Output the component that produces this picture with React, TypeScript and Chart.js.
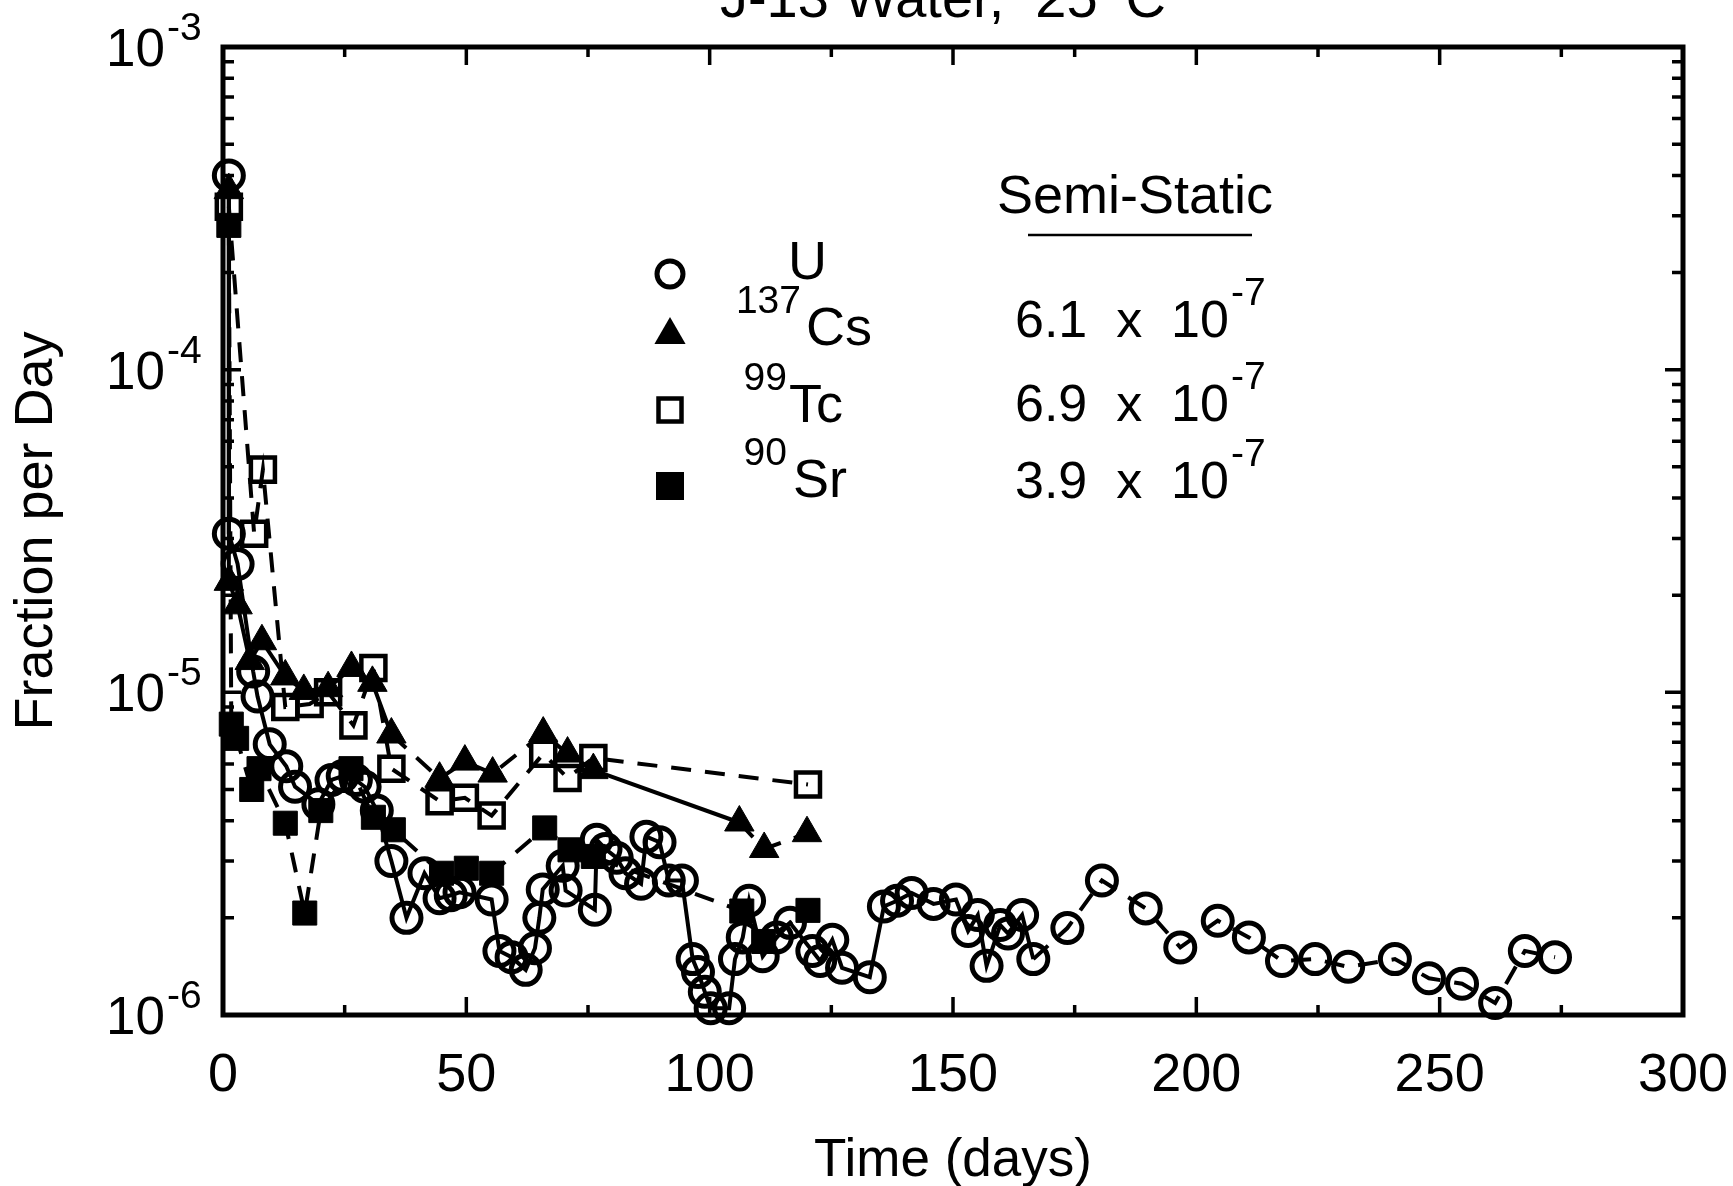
import { useEffect, useRef } from 'react';
import { Chart, registerables } from 'chart.js';

Chart.register(...registerables);

const FONT = "'Liberation Sans', Arial, Helvetica, sans-serif";

// ---- data (days, fraction per day) ----
const uDays = [1.2, 1.2, 3.0, 6.2, 7.1, 9.6, 13.0, 14.8, 19.6, 22.3, 24.6, 27.3, 29.1, 31.6, 34.6, 37.7, 41.4, 44.5, 46.8, 48.6,
  55.2, 56.8, 59.3, 62.2, 64.1, 65.0, 65.7, 69.8, 70.4, 76.4, 76.8, 78.6, 80.9, 82.7, 85.9, 87.0, 89.7, 91.6, 94.3,
  96.5, 97.6, 99.0, 100.2, 104.0, 105.2, 106.8, 108.1, 110.9, 113.8, 116.5, 121.1, 122.7, 125.2, 127.2, 132.9,
  135.8, 138.5, 141.5, 146.0, 150.6, 153.1, 155.1, 156.9, 159.7, 161.3, 164.2, 166.5, 173.5, 180.6, 189.6, 196.7,
  204.4, 210.8, 217.6, 224.4, 231.2, 240.8, 247.8, 254.6, 261.4, 267.5, 273.7];
const uValues = [4.0e-4, 3.1e-5, 2.5e-5, 1.16e-5, 9.7e-6, 6.9e-6, 5.9e-6, 5.1e-6, 4.5e-6, 5.35e-6, 5.5e-6, 5.35e-6, 5.1e-6, 4.3e-6, 3.0e-6, 2.0e-6, 2.75e-6, 2.3e-6, 2.35e-6, 2.4e-6,
  2.28e-6, 1.58e-6, 1.51e-6, 1.38e-6, 1.61e-6, 2.0e-6, 2.45e-6, 2.9e-6, 2.43e-6, 2.12e-6, 3.49e-6, 3.27e-6, 3.07e-6, 2.75e-6, 2.55e-6, 3.57e-6, 3.43e-6, 2.61e-6, 2.61e-6,
  1.49e-6, 1.36e-6, 1.18e-6, 1.05e-6, 1.05e-6, 1.49e-6, 1.74e-6, 2.26e-6, 1.52e-6, 1.74e-6, 1.93e-6, 1.58e-6, 1.47e-6, 1.71e-6, 1.40e-6, 1.31e-6,
  2.17e-6, 2.26e-6, 2.39e-6, 2.21e-6, 2.28e-6, 1.82e-6, 2.04e-6, 1.42e-6, 1.90e-6, 1.79e-6, 2.04e-6, 1.49e-6, 1.86e-6, 2.61e-6, 2.14e-6, 1.62e-6,
  1.96e-6, 1.74e-6, 1.47e-6, 1.49e-6, 1.41e-6, 1.49e-6, 1.30e-6, 1.25e-6, 1.09e-6, 1.58e-6, 1.51e-6];

const csDays = [1.2, 1.2, 3.0, 5.5, 8.0, 12.8, 16.6, 21.6, 26.4, 30.7, 34.6, 44.5, 49.7, 55.4, 65.8, 70.8, 76.1, 106.1, 111.2, 120.0];
const csValues = [3.6e-4, 2.2e-5, 1.86e-5, 1.25e-5, 1.44e-5, 1.12e-5, 1.01e-5, 1.03e-5, 1.19e-5, 1.07e-5, 7.4e-6, 5.4e-6, 6.1e-6, 5.6e-6, 7.45e-6, 6.46e-6, 5.74e-6, 3.95e-6, 3.27e-6, 3.66e-6];

const tcDays = [1.2, 6.4, 8.2, 12.8, 17.8, 21.6, 26.8, 30.9, 34.6, 44.5, 49.7, 55.2, 65.8, 70.8, 76.1, 120.2];
const tcValues = [3.2e-4, 3.1e-5, 4.9e-5, 9.0e-6, 9.2e-6, 1.0e-5, 7.9e-6, 1.19e-5, 5.8e-6, 4.6e-6, 4.71e-6, 4.15e-6, 6.45e-6, 5.43e-6, 6.26e-6, 5.18e-6];

const srDays = [1.2, 1.7, 2.8, 5.9, 7.4, 12.8, 16.8, 20.1, 26.3, 30.9, 35.0, 44.9, 50.0, 55.2, 66.1, 71.3, 76.1, 106.6, 111.1, 120.2];
const srValues = [2.8e-4, 7.97e-6, 7.2e-6, 5.0e-6, 5.8e-6, 3.93e-6, 2.07e-6, 4.3e-6, 5.8e-6, 4.1e-6, 3.75e-6, 2.75e-6, 2.85e-6, 2.75e-6, 3.8e-6, 3.25e-6, 3.1e-6, 2.1e-6, 1.69e-6, 2.11e-6];

// ---- axes / text ----
const xMin = 0;
const xMax = 300;
const xStep = 50;
const xMinorStep = 25;
const yDecades = [-6, -5, -4, -3];
const titleMain = 'J-13 Water,  25';
const titleDeg = 'o';
const titleTail = 'C';
const xTitle = 'Time (days)';
const yTitle = 'Fraction per Day';
const legendHeader = 'Semi-Static';
const legendMass = ['', '137', '99', '90'];
const legendSymbol = ['U', 'Cs', 'Tc', 'Sr'];
const legendRate = ['', '6.1', '6.9', '3.9'];
const legendExp = '-7';

const DASH = [20, 14];

function pts(xs: number[], ys: number[]) {
  return xs.map((x, i) => ({ x, y: ys[i] }));
}

const axesPlugin = {
  id: 'axesFrame',
  beforeDatasetsDraw(chart: any) {
    const { ctx, chartArea: a, scales } = chart;
    const xs = scales.x;
    const ys = scales.y;
    ctx.save();
    ctx.strokeStyle = '#000';
    ctx.lineWidth = 5;
    ctx.strokeRect(a.left, a.top, a.right - a.left, a.bottom - a.top);
    ctx.lineWidth = 3.5;
    ctx.beginPath();
    for (let v = xMin + xMinorStep; v < xMax; v += xMinorStep) {
      const px = xs.getPixelForValue(v);
      const len = v % xStep === 0 ? 18 : 10;
      ctx.moveTo(px, a.bottom);
      ctx.lineTo(px, a.bottom - len);
      ctx.moveTo(px, a.top);
      ctx.lineTo(px, a.top + len);
    }
    for (let di = 0; di < yDecades.length - 1; di++) {
      const d = yDecades[di];
      for (let m = 1; m <= 9; m++) {
        if (m === 1 && di === 0) continue;
        const py = ys.getPixelForValue(m * Math.pow(10, d));
        const len = m === 1 ? 18 : 11;
        ctx.moveTo(a.left, py);
        ctx.lineTo(a.left + len, py);
        ctx.moveTo(a.right, py);
        ctx.lineTo(a.right - len, py);
      }
    }
    ctx.stroke();
    ctx.restore();
  },
};

function drawSup(ctx: CanvasRenderingContext2D, base: string, sup: string, x: number, y: number) {
  ctx.font = `52px ${FONT}`;
  const wb = ctx.measureText(base).width;
  ctx.fillText(base, x, y);
  ctx.font = `39px ${FONT}`;
  ctx.fillText(sup, x + wb + 2, y - 32);
}

const textPlugin = {
  id: 'texts',
  afterDraw(chart: any) {
    const { ctx, scales } = chart;
    const ys = scales.y;
    ctx.save();
    ctx.fillStyle = '#000';
    ctx.strokeStyle = '#000';
    ctx.textAlign = 'left';
    ctx.textBaseline = 'alphabetic';

    // y tick labels 10^n
    for (const d of yDecades) {
      const py = ys.getPixelForValue(Math.pow(10, d));
      ctx.font = `53px ${FONT}`;
      const w10 = ctx.measureText('10').width;
      ctx.fillText('10', 165 - w10, py + 19);
      ctx.font = `39px ${FONT}`;
      ctx.fillText(String(d), 167, py - 7);
    }

    // title (cut off at top)
    ctx.font = `56px ${FONT}`;
    const w1 = ctx.measureText(titleMain).width;
    const w3 = ctx.measureText(titleTail).width;
    ctx.font = `36px ${FONT}`;
    const w2 = ctx.measureText(titleDeg).width;
    const total = w1 + w2 + w3 + 8;
    const tx = 943 - total / 2;
    ctx.font = `56px ${FONT}`;
    ctx.fillText(titleMain, tx, 17);
    ctx.font = `36px ${FONT}`;
    ctx.fillText(titleDeg, tx + w1 + 4, -16);
    ctx.font = `56px ${FONT}`;
    ctx.fillText(titleTail, tx + w1 + w2 + 8, 17);

    // legend header
    ctx.font = `54px ${FONT}`;
    ctx.fillText(legendHeader, 997, 213);
    ctx.lineWidth = 2.5;
    ctx.beginPath();
    ctx.moveTo(1028, 235);
    ctx.lineTo(1252, 235);
    ctx.stroke();

    // legend markers
    const mx = 670;
    ctx.lineWidth = 5;
    ctx.beginPath();
    ctx.arc(mx, 274, 13, 0, Math.PI * 2);
    ctx.stroke();
    const tr = 18;
    const tcy = 335;
    ctx.beginPath();
    ctx.moveTo(mx, tcy - tr);
    ctx.lineTo(mx + tr * Math.sin((2 * Math.PI) / 3), tcy + tr / 2);
    ctx.lineTo(mx - tr * Math.sin((2 * Math.PI) / 3), tcy + tr / 2);
    ctx.closePath();
    ctx.fill();
    ctx.lineWidth = 4.5;
    ctx.strokeRect(mx - 11.5, 410 - 11.5, 23, 23);
    ctx.fillRect(mx - 14, 486 - 14, 28, 28);

    // legend labels
    const rows = [279, 345, 422, 497];
    const rateRows = [0, 337, 421, 498];
    const massRight = [0, 801, 787, 787];
    const symLeft = [788, 806, 789, 793];
    for (let i = 0; i < legendSymbol.length; i++) {
      ctx.font = `54px ${FONT}`;
      ctx.fillText(legendSymbol[i], symLeft[i], rows[i]);
      if (legendMass[i]) {
        ctx.font = `39px ${FONT}`;
        const wm = ctx.measureText(legendMass[i]).width;
        ctx.fillText(legendMass[i], massRight[i] - wm, rows[i] - 32);
      }
      if (legendRate[i]) {
        drawSup(ctx, `${legendRate[i]}  x  10`, legendExp, 1015, rateRows[i]);
      }
    }
    ctx.restore();
  },
};

export default function App() {
  const ref = useRef<HTMLCanvasElement>(null);
  useEffect(() => {
    if (!ref.current) return;
    const common = { borderColor: '#000', pointBorderColor: '#000', showLine: true, tension: 0, clip: false as any, fill: false };
    const chart = new Chart(ref.current, {
      type: 'line',
      data: {
        datasets: [
          {
            ...common,
            label: 'U',
            data: pts(uDays, uValues),
            borderWidth: 4,
            pointStyle: 'circle',
            pointRadius: 14.5,
            pointBorderWidth: 5,
            pointBackgroundColor: 'rgba(0,0,0,0)',
            segment: { borderDash: (c: any) => (c.p0.parsed.x >= 166 ? DASH : undefined) },
          },
          {
            ...common,
            label: '137Cs',
            data: pts(csDays, csValues),
            borderWidth: 4,
            pointStyle: 'triangle',
            pointRadius: 17,
            pointBorderWidth: 1,
            pointBackgroundColor: '#000',
            segment: {
              borderDash: (c: any) => {
                const x0 = c.p0.parsed.x;
                return x0 < 34 || (x0 > 75 && x0 < 100) ? undefined : DASH;
              },
            },
          },
          {
            ...common,
            label: '99Tc',
            data: pts(tcDays, tcValues),
            borderWidth: 4,
            borderDash: DASH,
            pointStyle: 'rect',
            pointRadius: 17,
            pointBorderWidth: 4.5,
            pointBackgroundColor: 'rgba(0,0,0,0)',
          },
          {
            ...common,
            label: '90Sr',
            data: pts(srDays, srValues),
            borderWidth: 4,
            borderDash: DASH,
            pointStyle: 'rect',
            pointRadius: 17,
            pointBorderWidth: 1,
            pointBackgroundColor: '#000',
          },
        ],
      },
      options: {
        responsive: false,
        animation: false,
        devicePixelRatio: 1,
        events: [],
        layout: { padding: { top: 47, right: 50, left: 0, bottom: 0 } },
        plugins: { legend: { display: false }, tooltip: { enabled: false }, title: { display: false } },
        scales: {
          x: {
            type: 'linear',
            min: xMin,
            max: xMax,
            grid: { display: false },
            border: { display: false },
            ticks: {
              stepSize: xStep,
              autoSkip: false,
              maxRotation: 0,
              color: '#000',
              padding: 21,
              font: { family: FONT, size: 54 },
            },
            title: {
              display: true,
              text: xTitle,
              color: '#000',
              font: { family: FONT, size: 53 },
              padding: { top: 0, bottom: -7 },
            },
            afterFit: (s: any) => {
              s.height = 171;
              s.paddingLeft = 0;
              s.paddingRight = 0;
            },
          },
          y: {
            type: 'logarithmic',
            min: 1e-6,
            max: 1e-3,
            grid: { display: false },
            border: { display: false },
            ticks: { display: false },
            title: {
              display: true,
              text: yTitle,
              color: '#000',
              font: { family: FONT, size: 54 },
              padding: { top: 5, bottom: 0 },
            },
            afterFit: (s: any) => {
              s.width = 223;
              s.paddingTop = 0;
              s.paddingBottom = 0;
            },
          },
        },
      },
      plugins: [axesPlugin, textPlugin],
    });
    return () => chart.destroy();
  }, []);
  return (
    <div style={{ position: 'fixed', left: 0, top: 0, width: 1733, height: 1186, background: '#fff' }}>
      <canvas ref={ref} width={1733} height={1186} style={{ width: 1733, height: 1186, display: 'block' }} />
    </div>
  );
}
